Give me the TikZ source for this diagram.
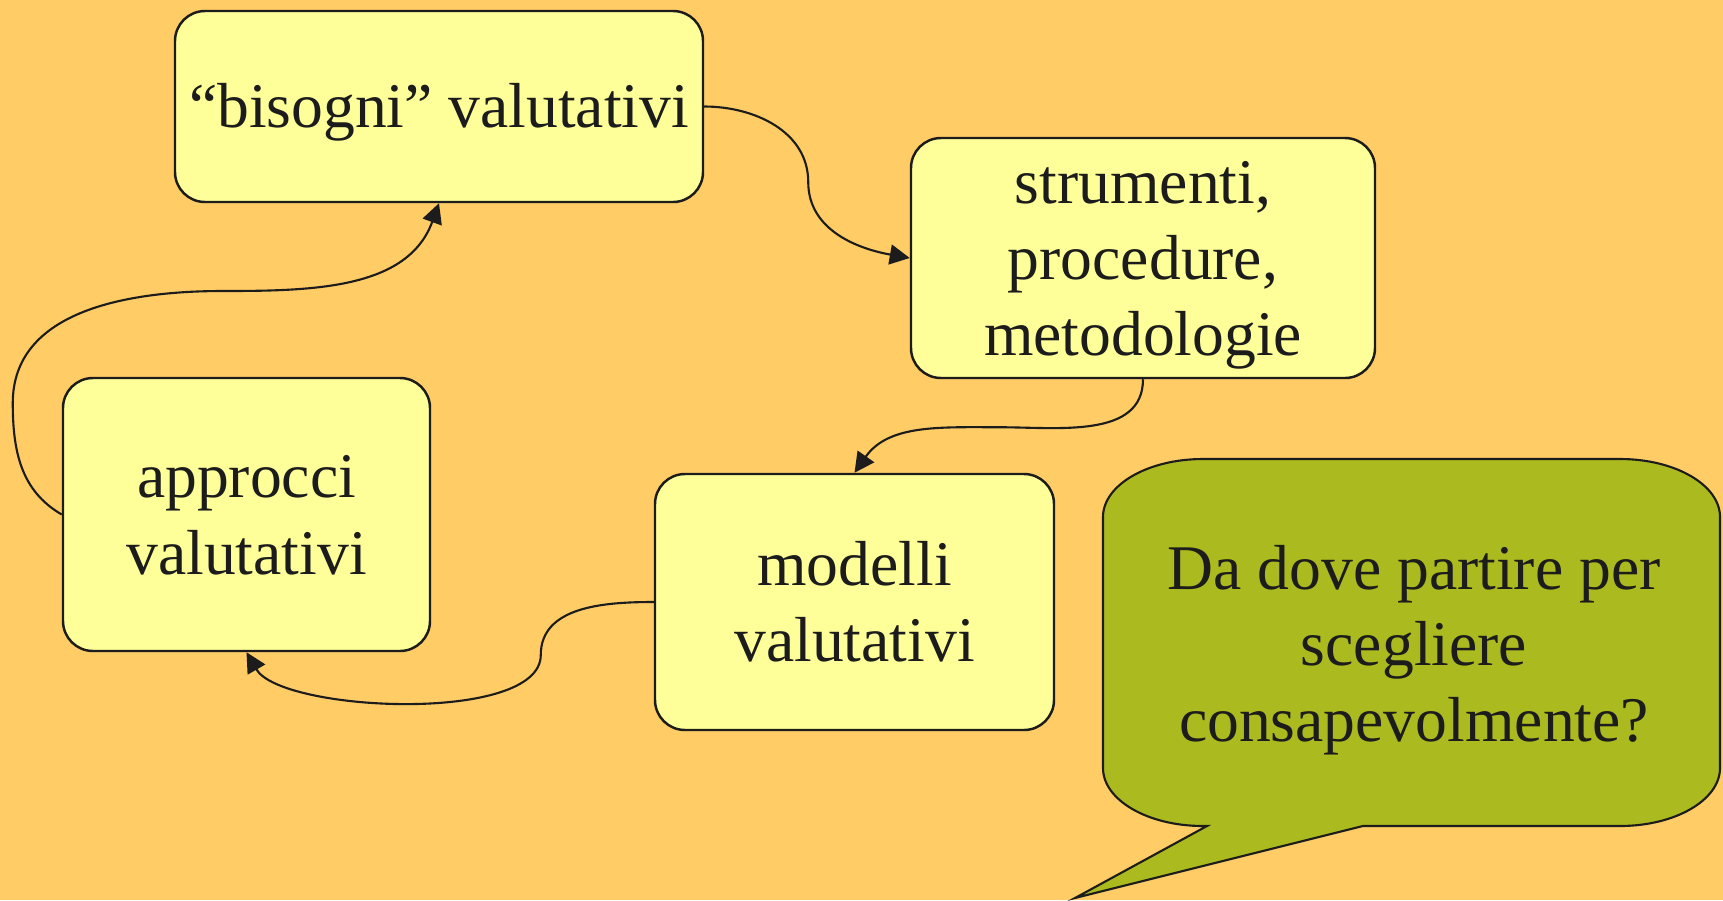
\documentclass[tikz,border=0pt]{standalone}
\usepackage{fontspec}
\setmainfont{Liberation Serif}
\usetikzlibrary{positioning, arrows.meta}

\definecolor{bgorange}{RGB}{255,204,102}
\definecolor{boxyellow}{RGB}{255,255,153}
\definecolor{bubblegreen}{RGB}{171,186,30}
\definecolor{ink}{RGB}{28,28,28}
\newcommand{\pptstrut}{\rule[-0.216em]{0pt}{1.107em}}

\begin{document}
\begin{tikzpicture}[node distance=2cm, on grid,
		txt/.style={text=ink, align=flush center, inner sep=0pt, font=\fontsize{18.1pt}{21.75pt}\selectfont,
			execute at begin node=\pptstrut, execute at end node=\pptstrut},
		box/.style={txt, draw=ink, line width=0.7pt, fill=boxyellow, rounded corners=3mm},
		link/.style={draw=ink, line width=0.6pt, -{Triangle[length=2mm, width=2mm]}}]
			\path[fill=bgorange, use as bounding box] (0,0) rectangle (17.23,-9);
			
			% fumetto
			\filldraw[fill=bubblegreen, draw=ink, line width=0.6pt]
			(12.07,-8.26) -- (10.75,-8.98) -- (13.63,-8.26) -- (16.20,-8.26)
			arc[start angle=-90, end angle=0, x radius=1, y radius=0.58] -- (17.20,-5.17)
			arc[start angle=0, end angle=90, x radius=1, y radius=0.58] -- (12.03,-4.59)
			arc[start angle=90, end angle=180, x radius=1, y radius=0.58] -- (11.03,-7.68)
			arc[start angle=180, end angle=270, x radius=1, y radius=0.58] -- cycle;
			
			\node[box, text width=5.1cm, minimum width=5.28cm, minimum height=1.91cm] (bis) at (4.39,-1.065) {“bisogni” valutativi};
			\node[box, text width=4.4cm, minimum width=4.64cm, minimum height=2.4cm] (stru) [below right=1.515cm and 7.04cm of bis] {strumenti,\\procedure,\\metodologie};
			\node[box, text width=3.8cm, minimum width=3.99cm, minimum height=2.56cm] (mod) [below left=3.44cm and 2.885cm of stru] {modelli\\valutativi};
			\node[box, text width=3.5cm, minimum width=3.67cm, minimum height=2.73cm] (app) [above left=0.875cm and 6.08cm of mod] {approcci\\valutativi};
			\node[txt, text width=5.4cm] (domanda) [below right=0.42cm and 5.595cm of mod] {Da dove partire per\\scegliere\\consapevolmente?};
			
			\coordinate[below right=0.755cm and 1.04cm of bis.east] (b1);
			\coordinate[below left=0.48cm and 1.44cm of stru.south] (s1);
			\coordinate[below left=0.53cm and 1.13cm of mod.west] (m1);
			\coordinate[above left=1.115cm and 0.49cm of app.west] (a1);
			\coordinate[above right=2.235cm and 1.61cm of app.west] (a2);
			
			\draw[link] (bis.east) to[out=0, in=90] (b1) to[out=-90, in=170] (stru.west);
			\draw[link] (stru.south) to[out=-90, in=0] (s1) to[out=180, in=55] (mod.north);
			\draw[link] (mod.west) to[out=180, in=90] (m1) to[out=-90, in=-60, looseness=0.6] (app.south);
			\draw[link] (app.west) to[out=150, in=-90] (a1) to[out=90, in=180] (a2) to[out=0, in=-110] (bis.south);
			
		\end{tikzpicture}
\end{document}
